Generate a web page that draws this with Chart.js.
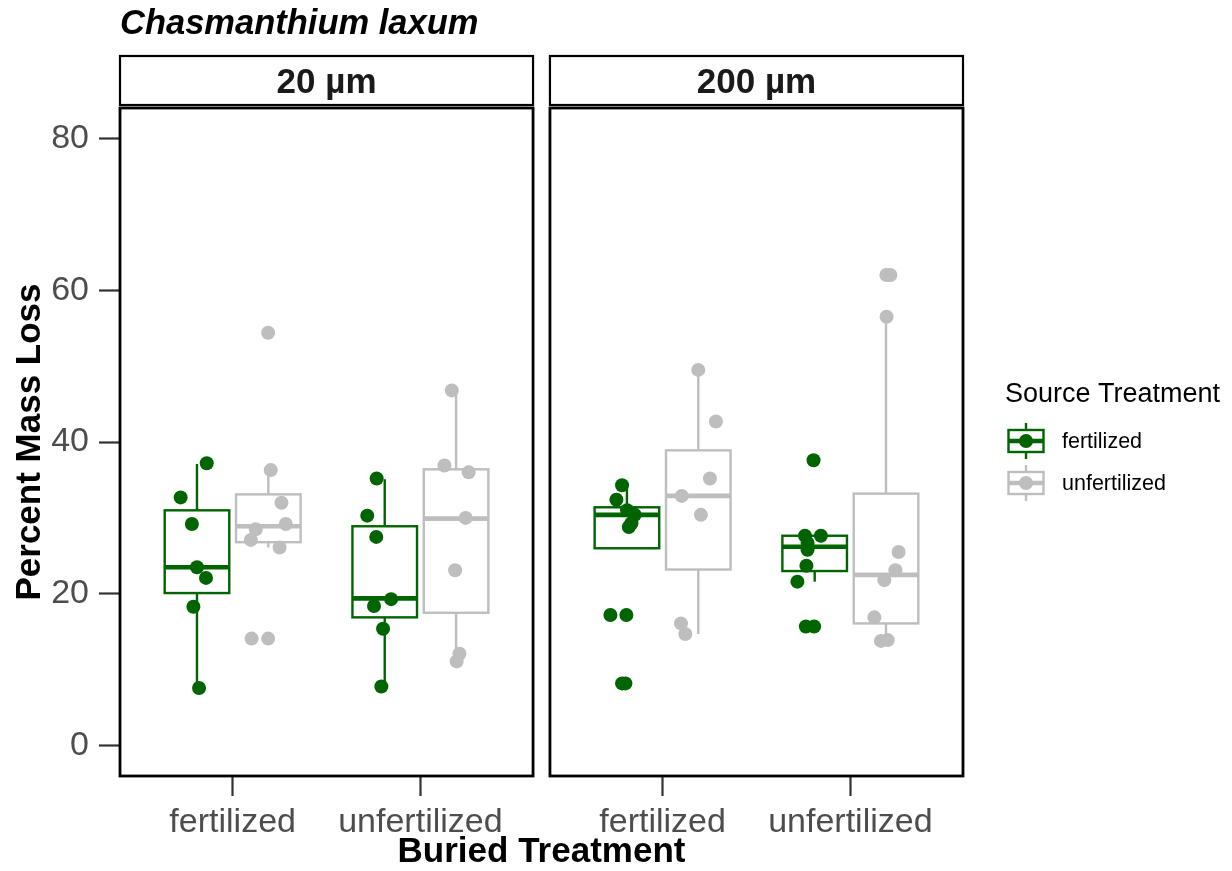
<!DOCTYPE html>
<html>
<head>
<meta charset="utf-8">
<script src="https://cdn.jsdelivr.net/npm/chart.js@4/dist/chart.umd.min.js"></script>
<style>
  html, body { margin: 0; padding: 0; background: #ffffff; }
  #wrap { width: 1232px; height: 871px; position: relative; }
</style>
</head>
<body>
<div id="wrap"><canvas id="c" width="1232" height="871"></canvas></div>
<script>
// ---------------- DATA ----------------
const chartTitle = 'Chasmanthium laxum';
const panelLabels = ['20 µm', '200 µm'];
const buriedLabels = ['fertilized', 'unfertilized'];
const sourceLabels = ['fertilized', 'unfertilized'];
const yTickValues = [0, 20, 40, 60, 80];
const yAxisLabel = 'Percent Mass Loss';
const xAxisLabel = 'Buried Treatment';
const legendTitle = 'Source Treatment';

// Percent mass loss values and horizontal jitter (category units)
// 20 µm
const v20_buriedF_sourceF = [37.2, 32.7, 29.2, 23.5, 22.1, 18.3, 7.6];
const j20_buriedF_sourceF = [0.052, -0.087, -0.027, 0.000, 0.048, -0.019, 0.011];
const v20_buriedF_sourceU = [54.4, 36.3, 32.0, 29.2, 28.5, 27.1, 26.1, 14.1, 14.1];
const j20_buriedF_sourceU = [-0.001, 0.013, 0.070, 0.093, -0.067, -0.093, 0.060, -0.089, -0.001];
const v20_buriedU_sourceF = [35.2, 30.3, 27.5, 19.3, 18.4, 15.4, 7.8];
const j20_buriedU_sourceF = [-0.043, -0.093, -0.045, 0.034, -0.057, -0.009, -0.018];
const v20_buriedU_sourceU = [46.8, 36.9, 36.0, 30.0, 23.1, 12.1, 11.1];
const j20_buriedU_sourceU = [-0.023, -0.062, 0.067, 0.051, -0.005, 0.018, 0.003];
// 200 µm
const v200_buriedF_sourceF = [34.3, 32.4, 31.0, 30.4, 29.3, 28.8, 17.2, 17.2, 8.2, 8.2];
const j200_buriedF_sourceF = [-0.026, -0.056, 0.001, 0.042, 0.024, 0.010, -0.088, -0.003, -0.026, -0.008];
const v200_buriedF_sourceU = [49.5, 42.7, 35.2, 32.9, 30.4, 16.1, 14.7];
const j200_buriedF_sourceU = [0.000, 0.094, 0.062, -0.088, 0.014, -0.092, -0.069];
const v200_buriedU_sourceF = [37.6, 27.65, 27.65, 26.7, 25.8, 23.7, 21.6, 15.7, 15.7];
const j200_buriedU_sourceF = [-0.006, -0.052, 0.033, -0.038, -0.038, -0.044, -0.092, -0.047, -0.003];
const v200_buriedU_sourceU = [62.0, 62.0, 56.5, 25.5, 23.1, 21.8, 16.9, 13.8, 13.9];
const j200_buriedU_sourceU = [0.002, 0.023, 0.003, 0.067, 0.050, -0.009, -0.062, -0.027, 0.009];

// Box statistics [lower whisker, Q1, median, Q3, upper whisker]
const box20_buriedF_sourceF = [7.6, 20.1, 23.5, 31.0, 37.1];
const box20_buriedF_sourceU = [26.1, 26.8, 28.9, 33.1, 36.3];
const box20_buriedU_sourceF = [7.8, 16.9, 19.4, 28.9, 35.1];
const box20_buriedU_sourceU = [11.1, 17.5, 29.9, 36.4, 46.8];
const box200_buriedF_sourceF = [26.0, 26.0, 30.4, 31.4, 34.3];
const box200_buriedF_sourceU = [14.7, 23.2, 32.9, 38.9, 49.5];
const box200_buriedU_sourceF = [21.6, 23.0, 26.2, 27.65, 27.65];
const box200_buriedU_sourceU = [13.8, 16.1, 22.5, 33.2, 56.5];

// ---------------- LAYOUT / STYLE ----------------
const FONT = "'Liberation Sans', Arial, Helvetica, sans-serif";
const srcColors = ['#006400', '#bebebe'];
const PANEL_SPAN = 2.29;     // category units per panel incl. gap
const DODGE = 0.19;
const HALF_BOX = 0.172;
const PT_RADIUS = 7;

function catX(panel, buried) { return 1 + buried + panel * PANEL_SPAN; }
function srcOffset(source) { return source === 0 ? -DODGE : DODGE; }

const groups = [
  { panel: 0, buried: 0, source: 0, values: v20_buriedF_sourceF, jitter: j20_buriedF_sourceF, box: box20_buriedF_sourceF },
  { panel: 0, buried: 0, source: 1, values: v20_buriedF_sourceU, jitter: j20_buriedF_sourceU, box: box20_buriedF_sourceU },
  { panel: 0, buried: 1, source: 0, values: v20_buriedU_sourceF, jitter: j20_buriedU_sourceF, box: box20_buriedU_sourceF },
  { panel: 0, buried: 1, source: 1, values: v20_buriedU_sourceU, jitter: j20_buriedU_sourceU, box: box20_buriedU_sourceU },
  { panel: 1, buried: 0, source: 0, values: v200_buriedF_sourceF, jitter: j200_buriedF_sourceF, box: box200_buriedF_sourceF },
  { panel: 1, buried: 0, source: 1, values: v200_buriedF_sourceU, jitter: j200_buriedF_sourceU, box: box200_buriedF_sourceU },
  { panel: 1, buried: 1, source: 0, values: v200_buriedU_sourceF, jitter: j200_buriedU_sourceF, box: box200_buriedU_sourceF },
  { panel: 1, buried: 1, source: 1, values: v200_buriedU_sourceU, jitter: j200_buriedU_sourceU, box: box200_buriedU_sourceU },
];

const xTickPositions = [];
const xTickLabels = [];
panelLabels.forEach((p, pi) => buriedLabels.forEach((b, bi) => {
  xTickPositions.push(catX(pi, bi));
  xTickLabels.push(b);
}));

const datasets = sourceLabels.map((s, si) => ({
  label: s,
  data: groups.filter(g => g.source === si).flatMap(g =>
    g.values.map((v, i) => ({ x: catX(g.panel, g.buried) + srcOffset(si) + g.jitter[i], y: v }))),
  backgroundColor: srcColors[si],
  borderWidth: 0,
  pointRadius: PT_RADIUS,
  pointHoverRadius: PT_RADIUS,
  showLine: false,
}));

function line(ctx, x1, y1, x2, y2) {
  ctx.beginPath(); ctx.moveTo(x1, y1); ctx.lineTo(x2, y2); ctx.stroke();
}

const facetPlugin = {
  id: 'facets',
  beforeDatasetsDraw(chart) {
    const ctx = chart.ctx, xs = chart.scales.x, ys = chart.scales.y;
    ctx.save();
    groups.forEach(g => {
      const c = catX(g.panel, g.buried) + srcOffset(g.source);
      const px = xs.getPixelForValue(c);
      const l = xs.getPixelForValue(c - HALF_BOX), r = xs.getPixelForValue(c + HALF_BOX);
      const [lo, q1, med, q3, hi] = g.box.map(v => ys.getPixelForValue(v));
      ctx.strokeStyle = srcColors[g.source];
      ctx.lineWidth = 2.4;
      line(ctx, px, hi, px, q3);
      line(ctx, px, q1, px, lo);
      ctx.fillStyle = '#ffffff';
      ctx.fillRect(l, q3, r - l, q1 - q3);
      ctx.strokeRect(l, q3, r - l, q1 - q3);
      ctx.lineWidth = 4.6;
      line(ctx, l, med, r, med);
    });
    ctx.restore();
  },
  afterDatasetsDraw(chart) {
    const ctx = chart.ctx, xs = chart.scales.x, area = chart.chartArea;
    ctx.save();
    ctx.strokeStyle = '#000000';
    panelLabels.forEach((p, pi) => {
      const l = xs.getPixelForValue(0.4 + pi * PANEL_SPAN);
      const r = xs.getPixelForValue(2.6 + pi * PANEL_SPAN);
      ctx.lineWidth = 2.8;
      ctx.strokeRect(l, area.top, r - l, area.bottom - area.top);
      const sTop = 56, sBot = 105;
      ctx.fillStyle = '#ffffff';
      ctx.fillRect(l, sTop, r - l, sBot - sTop);
      ctx.lineWidth = 2.2;
      ctx.strokeRect(l, sTop, r - l, sBot - sTop);
      ctx.fillStyle = '#1a1a1a';
      ctx.font = `bold 35px ${FONT}`;
      ctx.textAlign = 'center';
      ctx.textBaseline = 'alphabetic';
      ctx.fillText(p, (l + r) / 2, 93);
    });
    ctx.restore();
  },
  afterDraw(chart) {
    const ctx = chart.ctx;
    ctx.save();
    ctx.fillStyle = '#000000';
    ctx.font = `italic bold 34.5px ${FONT}`;
    ctx.textAlign = 'left';
    ctx.textBaseline = 'alphabetic';
    ctx.fillText(chartTitle, 120, 34);
    ctx.font = `27px ${FONT}`;
    ctx.fillText(legendTitle, 1005, 402);
    const keyX = 1026, keyYs = [441, 483];
    sourceLabels.forEach((s, si) => {
      const cy = keyYs[si];
      ctx.strokeStyle = srcColors[si];
      ctx.lineWidth = 2.4;
      line(ctx, keyX, cy - 18, keyX, cy + 18);
      ctx.fillStyle = '#ffffff';
      ctx.fillRect(keyX - 17.5, cy - 11, 35, 22);
      ctx.strokeRect(keyX - 17.5, cy - 11, 35, 22);
      ctx.lineWidth = 4.6;
      line(ctx, keyX - 17.5, cy, keyX + 17.5, cy);
      ctx.fillStyle = srcColors[si];
      ctx.beginPath(); ctx.arc(keyX, cy, PT_RADIUS, 0, Math.PI * 2); ctx.fill();
      ctx.fillStyle = '#000000';
      ctx.font = `21.5px ${FONT}`;
      ctx.textBaseline = 'middle';
      ctx.fillText(s, 1062, cy + 1);
      ctx.textBaseline = 'alphabetic';
    });
    ctx.restore();
  }
};

new Chart(document.getElementById('c'), {
  type: 'scatter',
  data: { datasets },
  plugins: [facetPlugin],
  options: {
    responsive: false,
    animation: false,
    events: [],
    layout: { padding: { left: 0, top: 108, right: 269, bottom: 0 } },
    plugins: { legend: { display: false }, tooltip: { enabled: false }, title: { display: false } },
    scales: {
      x: {
        type: 'linear',
        min: 0.4,
        max: 0.4 + PANEL_SPAN + 2.2,
        afterBuildTicks: s => { s.ticks = xTickPositions.map(v => ({ value: v })); },
        afterFit: s => { s.height = 95; },
        ticks: {
          callback: (v, i) => xTickLabels[i],
          font: { family: FONT, size: 34 },
          color: '#4d4d4d',
          padding: 6,
          autoSkip: false,
          maxRotation: 0,
          minRotation: 0,
        },
        grid: { display: true, drawOnChartArea: false, drawTicks: true, tickLength: 20, tickColor: '#333333', tickWidth: 2.2 },
        border: { display: false },
        title: { display: true, text: xAxisLabel, color: '#000000', font: { family: FONT, size: 35, weight: 'bold', lineHeight: 1 }, padding: { top: 0, bottom: 1 } },
      },
      y: {
        type: 'linear',
        min: -4,
        max: 84,
        afterBuildTicks: s => { s.ticks = yTickValues.map(v => ({ value: v })); },
        afterFit: s => { s.width = 120; },
        ticks: { font: { family: FONT, size: 34 }, color: '#4d4d4d', padding: 10 },
        grid: { display: true, drawOnChartArea: false, drawTicks: true, tickLength: 21, tickColor: '#333333', tickWidth: 2.2 },
        border: { display: false },
        title: { display: true, text: yAxisLabel, color: '#000000', font: { family: FONT, size: 35, weight: 'bold', lineHeight: 1 }, padding: { top: 13, bottom: 0 } },
      }
    }
  }
});
</script>
</body>
</html>
